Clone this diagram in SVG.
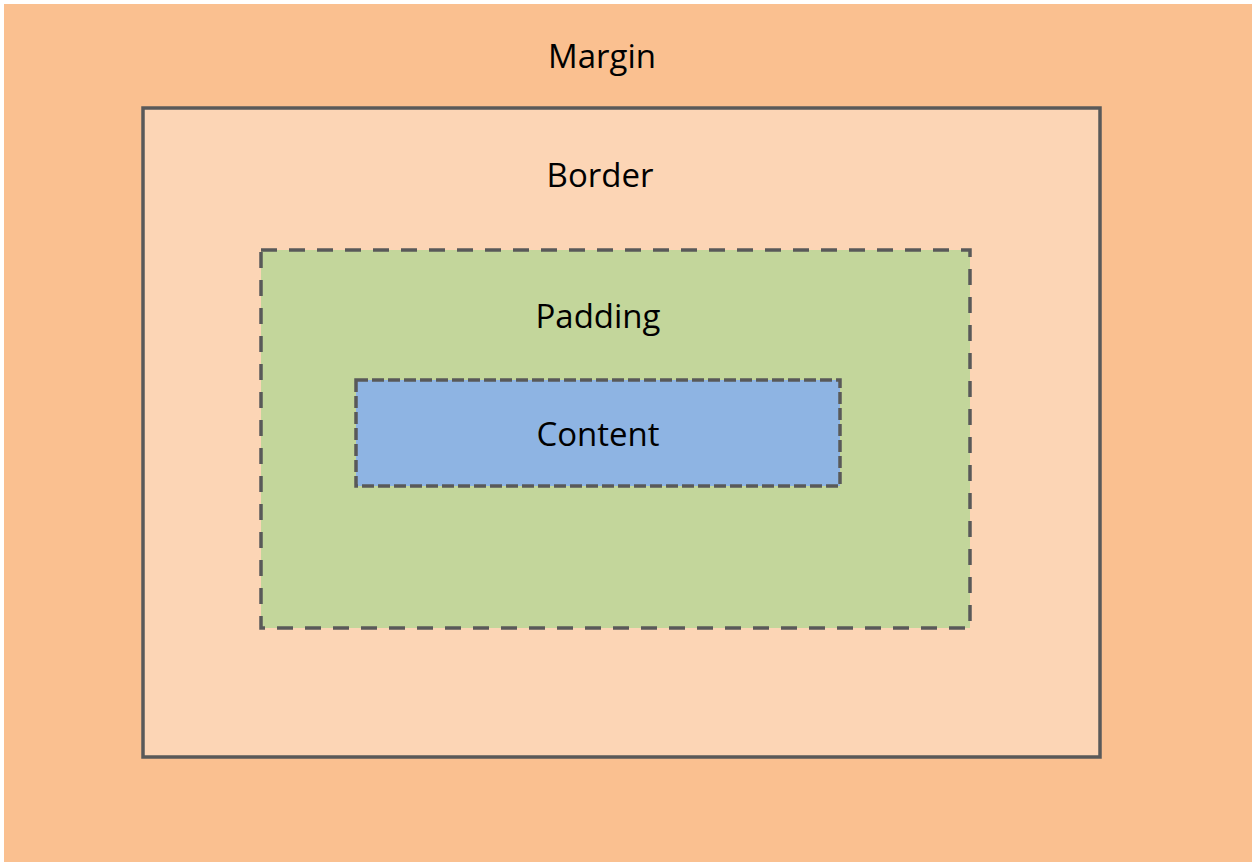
<svg xmlns="http://www.w3.org/2000/svg" width="1256" height="866" viewBox="0 0 1256 866">
<style>
.lbl{font-family:"Open Sans","Liberation Sans",sans-serif;font-size:33px;fill:#000;text-anchor:middle}
.box{stroke:#595959;stroke-width:3.5}
</style>
<rect width="1256" height="866" fill="#ffffff"/>
<g id="margin">
<rect x="4" y="4" width="1248" height="858" fill="#FAC090"/>
<text class="lbl" x="602" y="68">Margin</text>
</g>
<g id="border">
<rect class="box" x="143" y="108" width="957" height="649" fill="#FCD5B5"/>
<text class="lbl" x="600" y="187">Border</text>
</g>
<g id="padding">
<rect class="box" x="261" y="250" width="709" height="378" fill="#C3D69B" stroke-dasharray="16 12"/>
<text class="lbl" x="598" y="328">Padding</text>
</g>
<g id="content">
<rect class="box" x="356" y="380" width="484" height="106" fill="#8EB4E3" stroke-dasharray="12 4"/>
<text class="lbl" x="598" y="446">Content</text>
</g>
<g id="connectors"></g>
</svg>
